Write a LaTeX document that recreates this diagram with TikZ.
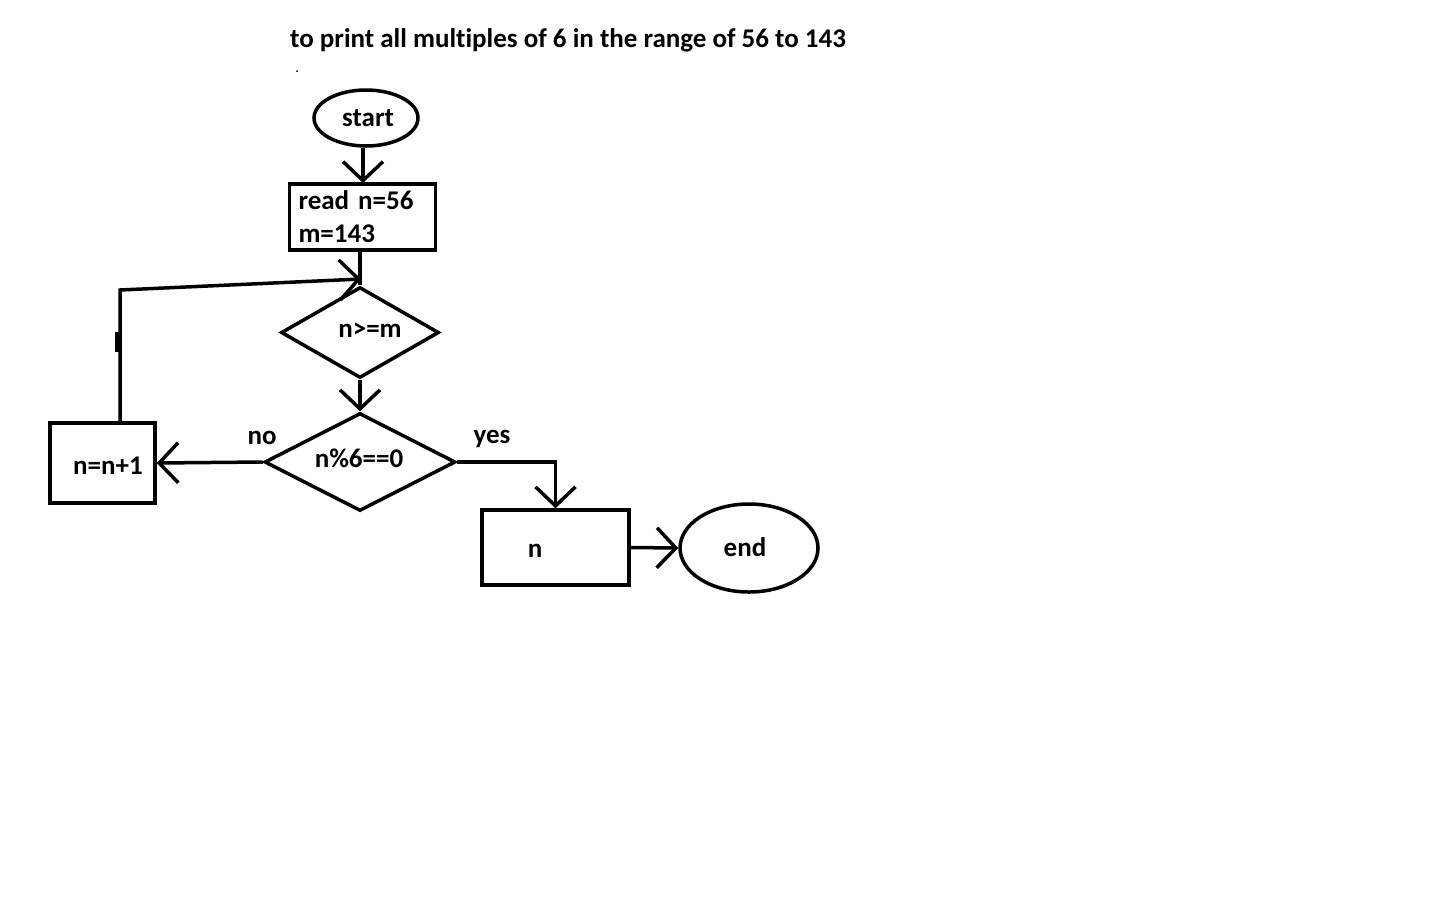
\documentclass[tikz,border=0pt]{standalone}
\usepackage{fontspec}
\setmainfont{Carlito}[Ligatures=CommonOff]
\usetikzlibrary{shapes.geometric,arrows.meta}
\begin{document}
\begin{tikzpicture}[x=1pt,y=-1pt,
  every node/.style={font=\bfseries\fontsize{27}{33}\selectfont, inner sep=0pt},
  shp/.style={draw, line width=3.5pt},
  boxs/.style={shp, rectangle},
  ovals/.style={shp, ellipse},
  dias/.style={shp, diamond},
  arr/.style={line width=3.5pt, -{Straight Barb[length=19pt,width=40pt,line width=3.5pt]}},
  lin/.style={line width=3.5pt}
]
\useasboundingbox (0,0) rectangle (1455,903);
\fill[white] (0,0) rectangle (1455,903);

\node[anchor=west, font=\bfseries\fontsize{27}{30}\selectfont] (title) at (290,40) {to print all multiples of 6 in the range of 56 to 143};
\fill (297,71) circle (1pt);

\node[ovals, minimum width=104pt, minimum height=56pt] (start) at (366,118) {};
\node (t0) at (368,118) {start};
\node[boxs, minimum width=143pt, minimum height=66pt, text width=128pt, inner xsep=9pt, align=left] (read) at (362.5,217) {read n=56\\m=143};
\node[dias, minimum width=158pt, minimum height=91pt] (d1) at (360,332.5) {};
\node (t1) at (370,330) {n>=m};
\node[dias, minimum width=191pt, minimum height=98pt] (d2) at (360,462) {};
\node (t2) at (359,458) {n\%6==0};
\node[boxs, minimum width=105pt, minimum height=80pt] (nn) at (102.5,463) {};
\node (t3) at (108,466) {n=n+1};
\node[boxs, minimum width=147pt, minimum height=75pt] (nb) at (555.5,547.5) {};
\node (t4) at (535,551) {n};
\node[ovals, minimum width=138pt, minimum height=88pt] (end) at (749,548) {};
\node (t5) at (745,547) {end};

\node (no) at (262,438) {no};
\node (yes) at (492,439) {yes};

\coordinate (lc) at (120,290);
\coordinate (la) at (361,279);

\draw[arr] (start.south -| 363,0) -- (363,183);
\draw[lin] (read.south -| d1.north) -- (d1.north);
\draw[arr] (nn.north -| lc) -- (lc) -- (la);
\draw[lin] (117,332) -- (117,352);
\draw[arr] (d1.south) -- (d2.north);
\draw[arr] (d2.west) -- (nn.east);
\draw[arr] (d2.east) -| (nb.north);
\draw[arr] (nb.east) -- (end.west);
\end{tikzpicture}
\end{document}
